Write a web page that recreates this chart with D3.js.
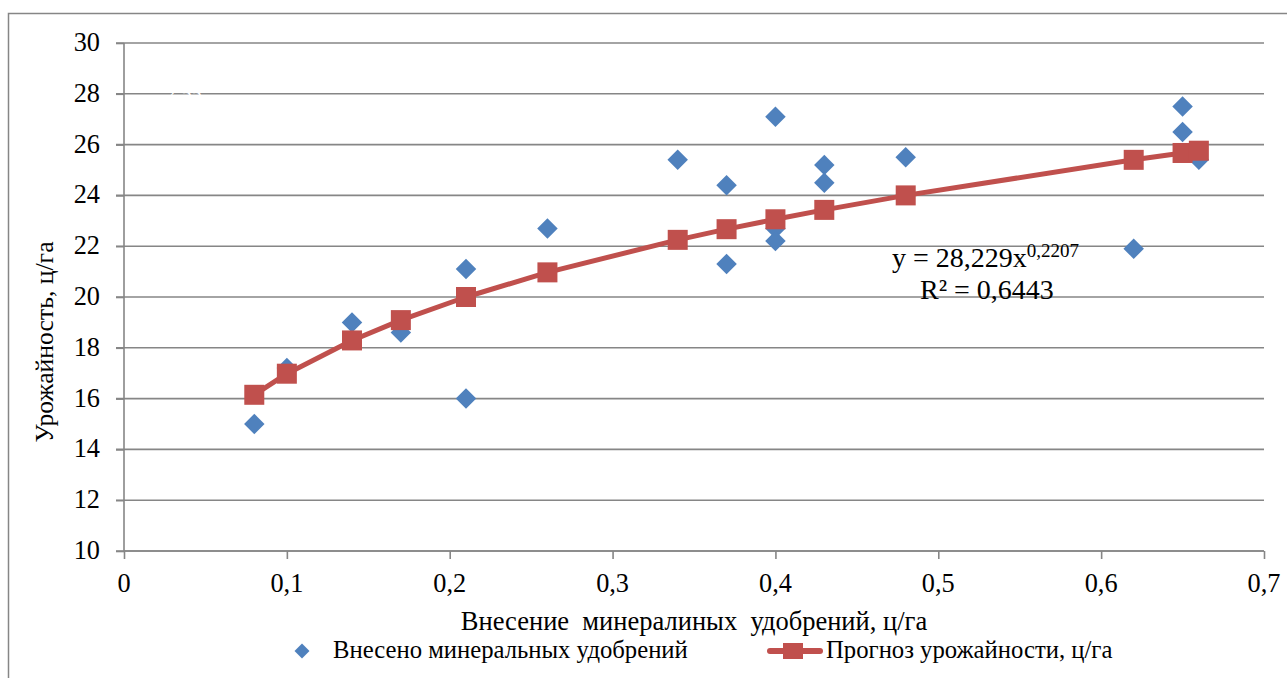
<!DOCTYPE html>
<html><head><meta charset="utf-8">
<script src="https://cdn.jsdelivr.net/npm/d3@7"></script>
</head>
<body style="margin:0;background:#fff"><div id="wrap" style="position:relative;width:1287px;height:678px"><svg id="c" width="1287" height="678" style="position:absolute;left:0;top:0"></svg></div>
<script>
// Observed points: fertilizer applied (c/ha) vs yield (c/ha)
const obsX = [0.08,0.10,0.14,0.17,0.21,0.21,0.26,0.34,0.37,0.37,0.40,0.40,0.40,0.43,0.43,0.48,0.62,0.65,0.65,0.66];
const obsY = [15.0,17.2,19.0,18.6,21.1,16.0,22.7,25.4,24.4,21.3,27.1,22.7,22.2,25.2,24.5,25.5,21.9,27.5,26.5,25.4];
// Forecast series
const predX = [0.08,0.10,0.14,0.17,0.21,0.26,0.34,0.37,0.40,0.43,0.48,0.62,0.65,0.66];
const predY = [16.15,16.98,18.29,19.09,20.0,20.97,22.25,22.67,23.06,23.43,24.0,25.4,25.67,25.76];
const xTicks = [0,0.1,0.2,0.3,0.4,0.5,0.6,0.7];
const yTicks = [10,12,14,16,18,20,22,24,26,28,30];
const seriesNames = ["Внесено минеральных удобрений","Прогноз урожайности, ц/га"];
const xTitle = "Внесение  минералиных  удобрений, ц/га";
const yTitle = "Урожайность, ц/га";
const eq1 = "y = 28,229x", eqExp = "0,2207", eq2 = "R² = 0,6443";

const FONT = "Liberation Serif";
const svg = d3.select("#c");
const wrap = d3.select("#wrap");
const L=124,R=1264,T=43,B=551;
const x = d3.scaleLinear().domain([0,0.7]).range([L,R]);
const y = d3.scaleLinear().domain([10,30]).range([B,T]);
const fmt = d => String(d).replace(".", ",");
const gray="#868686", blue="#4F81BD", red="#C0504D";

function txt(parent, s, size){
  return parent.append("text").attr("font-family",FONT).style("font-family",`'${FONT}'`)
    .attr("font-size",size).style("font-size",size+"px").attr("fill","#000").text(s);
}

// outer frame
svg.append("path").attr("d","M8.5,678 V13.5 H1287").attr("fill","none").attr("stroke",gray).attr("stroke-width",1.5);

// gridlines
svg.append("g").selectAll("line").data(yTicks).join("line")
  .attr("x1",L-8).attr("x2",R).attr("y1",d=>y(d)).attr("y2",d=>y(d))
  .attr("stroke",gray).attr("stroke-width",1.6);

// y axis (line + ticks via d3 axis)
const ya = svg.append("g").attr("transform",`translate(${L},0)`)
  .call(d3.axisLeft(y).tickValues(yTicks).tickFormat("").tickSize(8));
ya.select(".domain").attr("stroke",gray).attr("stroke-width",1.6).attr("d",`M0,${T}V${B}`);
ya.selectAll(".tick line").attr("stroke",gray).attr("stroke-width",1.6);
ya.selectAll("text").remove();
// y tick labels as HTML
yTicks.forEach(v=>{
  wrap.append("div").text(fmt(v))
    .style("position","absolute").style("right",(1287-(L-24))+"px").style("top",(y(v)-15)+"px")
    .style("font-family","'Liberation Serif'").style("font-size","26.3px").style("line-height","30px")
    .style("color","#000").style("white-space","nowrap");
});

// x axis
const xa = svg.append("g").attr("transform",`translate(0,${B})`)
  .call(d3.axisBottom(x).tickValues(xTicks).tickFormat("").tickSize(8));
xa.select(".domain").attr("stroke",gray).attr("stroke-width",1.6).attr("d",`M${L},0H${R}`);
xa.selectAll(".tick line").attr("stroke",gray).attr("stroke-width",1.6);
xa.selectAll("text").remove();
xTicks.forEach(v=>{
  txt(svg, fmt(v), 26.3).attr("x",x(v)).attr("y",B+41).attr("text-anchor","middle");
});

// faint white label over gridline (as in source)
txt(svg,"2,55",20.3).attr("x",184).attr("y",100).attr("text-anchor","middle").attr("fill","#fff").style("fill","#fff");

// forecast line
const predData = predX.map((v,i)=>[v,predY[i]]);
svg.append("path").datum(predData)
  .attr("d",d3.line().x(d=>x(d[0])).y(d=>y(d[1])))
  .attr("fill","none").attr("stroke",red).attr("stroke-width",5).attr("stroke-linejoin","round");

// observed diamonds
const obsData = obsX.map((v,i)=>[v,obsY[i]]);
svg.append("g").selectAll("path").data(obsData).join("path")
  .attr("transform",d=>`translate(${x(d[0])},${y(d[1])}) rotate(45)`)
  .attr("d",d3.symbol().type(d3.symbolSquare).size(210))
  .attr("fill",blue);

// forecast squares
svg.append("g").selectAll("rect").data(predData).join("rect")
  .attr("x",d=>x(d[0])-10).attr("y",d=>y(d[1])-10).attr("width",20).attr("height",20)
  .attr("fill",red);

// trendline equation
const eq = txt(svg,null,28).attr("x",892).attr("y",267);
eq.append("tspan").text(eq1);
eq.append("tspan").attr("dy",-10).attr("font-size",19).style("font-size","19px").text(eqExp);
txt(svg,eq2,28).attr("x",920).attr("y",299);

// axis titles
txt(svg,xTitle,26.5).attr("x",694).attr("y",630).attr("text-anchor","middle").attr("xml:space","preserve").style("white-space","pre");
const yt = svg.append("g").attr("transform","translate(53,342) rotate(-90)");
txt(yt,yTitle,25.7).attr("x",0).attr("y",0).attr("text-anchor","middle");

// legend
const lg = svg.append("g");
lg.append("path").attr("transform","translate(302,651) rotate(45)")
  .attr("d",d3.symbol().type(d3.symbolSquare).size(112)).attr("fill",blue);
txt(svg,seriesNames[0],24.7).attr("x",333).attr("y",658);
lg.append("line").attr("x1",770).attr("x2",820).attr("y1",651).attr("y2",651)
  .attr("stroke",red).attr("stroke-width",6).attr("stroke-linecap","round");
lg.append("rect").attr("x",783).attr("y",643).attr("width",20).attr("height",16).attr("fill",red);
txt(svg,seriesNames[1],24.7).attr("x",826).attr("y",658);
</script></body></html>
